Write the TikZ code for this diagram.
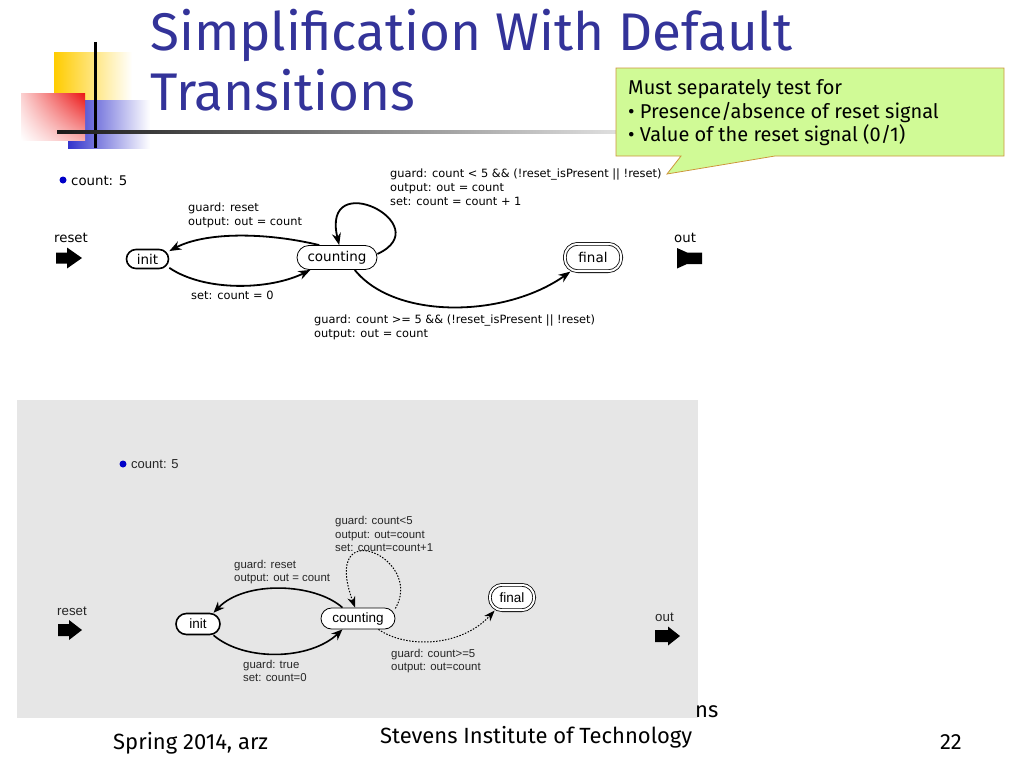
\documentclass[tikz,border=0pt]{standalone}
\usepackage{fontspec}
\setmainfont{Fira Sans}
\newfontfamily\dvs{DejaVu Sans}
\newfontfamily\lib{Liberation Sans}
\usetikzlibrary{arrows.meta,shadings}
\definecolor{titleblue}{RGB}{51,51,153}
\definecolor{decoY}{RGB}{255,204,0}
\definecolor{decoB}{RGB}{51,51,204}
\definecolor{decoR}{RGB}{235,20,20}
\definecolor{calloutfill}{RGB}{208,250,150}
\definecolor{calloutdraw}{RGB}{205,150,60}
\definecolor{panelgray}{RGB}{230,230,230}
\definecolor{dotblue}{RGB}{0,0,200}
\tikzset{
  title/.style={anchor=base west, inner sep=0pt, text=titleblue, font=\fontsize{53}{53}\selectfont},
  callt/.style={anchor=base west, inner sep=0pt, font=\fontsize{20}{20}\selectfont},
  foot/.style={inner sep=0pt, font=\fontsize{22}{22}\selectfont},
  lblA/.style={anchor=base west, inner sep=0pt, font=\dvs\fontsize{11.4}{12}\selectfont},
  lblB/.style={anchor=base west, inner sep=0pt, text=black!85, font=\lib\fontsize{11.4}{12}\selectfont},
  stA/.style={draw, fill=white, inner sep=0pt, font=\dvs\fontsize{13.5}{14}\selectfont},
  stB/.style={draw, fill=white, inner sep=0pt, font=\lib\fontsize{13.5}{14}\selectfont},
  edgeA/.style={line width=1.8pt, -{Stealth[length=12pt,width=9pt]}},
  edgeB/.style={line width=1.6pt, -{Stealth[length=11pt,width=9pt]}},
  edgeBd/.style={line width=1pt, dash pattern=on 1.5pt off 1.5pt, -{Stealth[length=11pt,width=8pt]}},
}
\begin{document}
\begin{tikzpicture}[x=1pt,y=-1pt]
\useasboundingbox (0,0) rectangle (1024,768);
\fill[white] (0,0) rectangle (1024,768);

% decoration
\shade[left color=decoY, middle color=decoY!80!white, right color=white] (54,53) rectangle (132,100);
\shade[left color=decoB, middle color=decoB!75!white, right color=white] (68,100) rectangle (150,148);
\shade[upper right=decoR, lower right=decoR!35!white, upper left=decoR!20!white, lower left=white] (21,93) rectangle (85,140);
\draw[line width=3pt] (95,42) -- (95,148);
\shade[left color=black!90, right color=black!12] (57,130.5) rectangle (620,133.5);

% title
\node[title] (t1) at (150,50) {Simplification With Default};
\node[title] (t2) at (150,110) {Transitions};

% callout
\filldraw[fill=calloutfill, draw=calloutdraw, line width=0.8pt]
  (616,68) -- (1004,68) -- (1004,156) -- (775,156) -- (667,174) -- (681,156) -- (616,156) -- cycle;
\node[callt] (c1t) at (628,94) {Must separately test for};
\node[callt] (c2t) at (628,118) {• Presence/absence of reset signal};
\node[callt] (c3t) at (628,141) {• Value of the reset signal (0/1)};

% ---------- top diagram ----------
\fill[dotblue] (63,180) circle (3.5);
\node[lblA, font=\dvs\fontsize{13.3}{14}\selectfont] (cntA) at (71,185) {count: 5};
\node[lblA, font=\dvs\fontsize{13.3}{14}\selectfont] (rstA) at (54,242) {reset};
\node[lblA, font=\dvs\fontsize{13.3}{14}\selectfont] (outA) at (674,242) {out};
\fill (56,252.5) -- (67,252.5) -- (67,247.5) -- (82,258) -- (67,268.5) -- (67,263.5) -- (56,263.5) -- cycle;
\fill (677,248) -- (687,252.5) -- (702,252.5) -- (702,264) -- (687,264) -- (677,268.5) -- cycle;

\node[stA, line width=1.6pt, minimum width=42pt, minimum height=19pt, rounded corners=9.5pt] (i1) at (147.5,259) {init};
\node[stA, line width=0.8pt, minimum width=80pt, minimum height=24pt, rounded corners=12pt] (k1) at (337,257.5) {counting};
\node[stA, line width=0.8pt, double, double distance=2pt, minimum width=56.4pt, minimum height=27.4pt, rounded corners=13pt] (f1) at (593,257.5) {final};

\draw[edgeA] (k1.145) .. controls (265,232) and (205,232) .. (i1.20);
\draw[edgeA] (i1.-22) .. controls (205,292) and (270,290) .. (k1.205);
\draw[edgeA] (k1.5) .. controls (440,225) and (320,165) .. (k1.80);
\draw[edgeA] (k1.-35) .. controls (395,320) and (505,318) .. (f1.212);

\node[lblA] (la1) at (188,211) {guard: reset};
\node[lblA] (la2) at (188,225) {output: out = count};
\node[lblA] (la3) at (191,299) {set: count = 0};
\node[lblA] (la4) at (390,177) {guard: count < 5 \&\& (!reset\_isPresent || !reset)};
\node[lblA] (la5) at (390,191) {output: out = count};
\node[lblA] (la6) at (390,205) {set: count = count + 1};
\node[lblA] (la7) at (314,323) {guard: count >= 5 \&\& (!reset\_isPresent || !reset)};
\node[lblA] (la8) at (314,337) {output: out = count};

% ---------- bottom diagram ----------
\fill[panelgray] (17,400) rectangle (698,718);
\fill[dotblue] (123,464) circle (3.5);
\node[lblB, font=\lib\fontsize{13}{14}\selectfont] (cntB) at (131,468) {count: 5};
\node[lblB, font=\lib\fontsize{13.3}{14}\selectfont] (rstB) at (57,615.5) {reset};
\node[lblB, font=\lib\fontsize{13.3}{14}\selectfont] (outB) at (655,621.5) {out};
\fill (58,624) -- (69,624) -- (69,620) -- (82,630) -- (69,640) -- (69,636) -- (58,636) -- cycle;
\fill (655,630) -- (668,630) -- (668,626.5) -- (680,636) -- (668,645.5) -- (668,642) -- (655,642) -- cycle;

\node[stB, line width=1.6pt, minimum width=44pt, minimum height=21pt, rounded corners=10.5pt] (i2) at (198,624) {init};
\node[stB, line width=0.8pt, minimum width=74pt, minimum height=21pt, rounded corners=10.5pt] (k2) at (358,618.5) {counting};
\node[stB, line width=0.8pt, double, double distance=2pt, minimum width=44.4pt, minimum height=25.4pt, rounded corners=12.5pt] (f2) at (512,597.5) {final};

\draw[edgeB] (k2.145) .. controls (315,583) and (245,580) .. (i2.36);
\draw[edgeB] (i2.-36) .. controls (245,662) and (310,660) .. (k2.215);
\draw[edgeBd] (k2.15) .. controls (425,558) and (320,512) .. (k2.105);
\draw[edgeBd] (k2.-28) .. controls (405,648) and (460,648) .. (f2.217);

\node[lblB] (lb1) at (234,568) {guard: reset};
\node[lblB] (lb2) at (234,581.5) {output: out = count};
\node[lblB] (lb3) at (243,668) {guard: true};
\node[lblB] (lb4) at (243,681.5) {set: count=0};
\node[lblB] (lb5) at (335,524.5) {guard: count<5};
\node[lblB] (lb6) at (335,538) {output: out=count};
\node[lblB] (lb7) at (335,551.5) {set: count=count+1};
\node[lblB] (lb8) at (391,657) {guard: count>=5};
\node[lblB] (lb9) at (391,670.5) {output: out=count};

% footer
\node[foot, anchor=base west] (fns) at (695,717) {ns};
\node[foot, anchor=base west] (fl) at (113,749) {Spring 2014, arz};
\node[foot, anchor=base west] (fc) at (380,743) {Stevens Institute of Technology};
\node[foot, anchor=base east] (fr) at (962,749) {22};
\end{tikzpicture}
\end{document}
